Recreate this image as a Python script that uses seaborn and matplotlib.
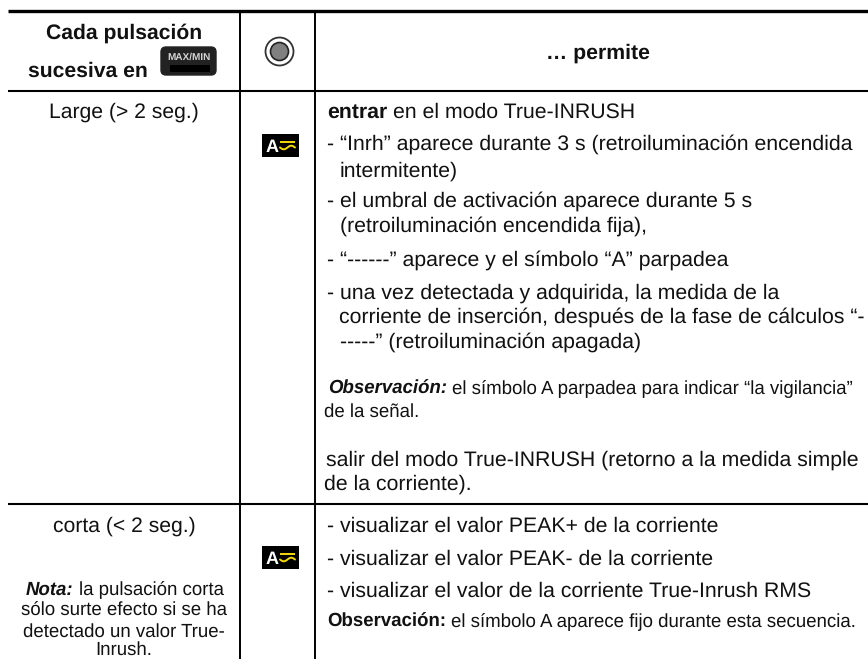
import numpy as np
import seaborn as sns
import matplotlib
matplotlib.use("Agg")
import matplotlib.pyplot as plt
from matplotlib.patches import Circle, FancyBboxPatch, Rectangle

# Table text
header_left = ["Cada pulsación", "sucesiva en"]
header_right = "… permite"
button_label = "MAX/MIN"
symbol_label = "A"
row1_left = "Large (> 2 seg.)"
row1_lines = [
    "- “Inrh” aparece durante 3 s (retroiluminación encendida",
    "intermitente)",
    "- el umbral de activación aparece durante 5 s",
    "(retroiluminación encendida fija),",
    "- “------” aparece y el símbolo “A” parpadea",
    "- una vez detectada y adquirida, la medida de la",
    "corriente de inserción, después de la fase de cálculos “-",
    "-----” (retroiluminación apagada)",
    "salir del modo True-INRUSH (retorno a la medida simple",
    "de la corriente).",
]
row1_first = ["entrar", "en el modo True-INRUSH"]
row1_obs = ["Observación:", "el símbolo A parpadea para indicar “la vigilancia”", "de la señal."]
row2_left = "corta (< 2 seg.)"
row2_note = ["Nota:", "la pulsación corta", "sólo surte efecto si se ha", "detectado un valor True-", "Inrush."]
row2_lines = [
    "- visualizar el valor PEAK+ de la corriente",
    "- visualizar el valor PEAK- de la corriente",
    "- visualizar el valor de la corriente True-Inrush RMS",
]
row2_obs = ["Observación:", "el símbolo A aparece fijo durante esta secuencia."]

font = "Liberation Sans"
body = 15.3
left = 15.2
small = 13.4

sns.set_theme(style="white")
plt.rcParams["font.family"] = font
plt.rcParams["text.hinting"] = "no_hinting"

fig, ax = plt.subplots(figsize=(8.68, 6.59), dpi=100)
fig.subplots_adjust(0, 0, 1, 1)
ax.set_xlim(0, 868)
ax.set_ylim(659, 0)
ax.axis("off")


def rule(x0, x1, y0, y1, lw):
    sns.lineplot(x=[x0, x1], y=[y0, y1], color="black", linewidth=lw, sort=False,
                 estimator=None, solid_capstyle="butt", ax=ax)


def runs(x, y, parts, size):
    # parts are (text, weight, style), drawn one after the other
    r = fig.canvas.get_renderer()
    for text, weight, style in parts:
        t = ax.text(x, y, text, fontsize=size, fontweight=weight, fontstyle=style,
                    va="baseline", ha="left", color="#111111")
        x = t.get_window_extent(r).x1 + size * 0.38


def centered(x, y, text, size=left, weight="normal"):
    ax.text(x, y, text, fontsize=size, fontweight=weight, ha="center", va="baseline", color="#111111")


def symbol(x, y):
    # black "A" tile with the yellow AC sign
    ax.add_patch(Rectangle((x, y), 37, 23, color="black", lw=0))
    ax.text(x + 10, y + 18, symbol_label, color="white", fontsize=13, fontweight="bold", ha="center", va="baseline")
    ax.plot([x + 18, x + 33], [y + 7.5, y + 7.5], color="#f5d90a", lw=1.4, solid_capstyle="butt")
    wx = np.linspace(x + 18, x + 33, 30)
    ax.plot(wx, y + 13.5 + 1.8 * np.sin((wx - x - 18) / 15 * 2 * np.pi), color="#f5d90a", lw=1.4)


# table rules
rule(8, 868, 11, 11, 2.4)
rule(8, 868, 90.5, 90.5, 1.5)
rule(8, 868, 503.5, 503.5, 1.5)
rule(240, 240, 10, 659, 1.4)
rule(315, 315, 10, 659, 1.4)

# header
centered(124, 39, header_left[0], weight="bold")
ax.text(28, 77, header_left[1], fontsize=left, fontweight="bold", va="baseline", color="#111111")
ax.add_patch(FancyBboxPatch((161, 47), 55, 28, boxstyle="round,pad=0,rounding_size=5", fc="#222222", ec="#222222", lw=1))
ax.text(188.5, 57, button_label, color="#d4d4d4", fontsize=7.2, fontweight="bold", ha="center", va="center")
ax.add_patch(Rectangle((170, 65), 40, 7, color="black", lw=0))
ax.add_patch(Circle((279.5, 51.5), 14, fc="white", ec="#333333", lw=1.3))
ax.add_patch(Circle((279.5, 51.5), 9, fc="#808080", ec="#222222", lw=1.2))
centered(598, 59, header_right, size=body, weight="bold")

# first row
centered(124, 118, row1_left)
symbol(262, 134)
runs(327, 118, [(row1_first[0], "bold", "normal"), (row1_first[1], "normal", "normal")], body)
row1_y = [150, 177, 207, 232, 266, 299, 323, 348, 466, 490]
row1_x = [327, 340, 327, 340, 327, 327, 339, 340, 326, 324]
for x, y, line in zip(row1_x, row1_y, row1_lines):
    ax.text(x, y, line, fontsize=body, va="baseline", color="#111111")
runs(328, 394, [(row1_obs[0], "bold", "italic"), (row1_obs[1], "normal", "normal")], small)
ax.text(324, 417, row1_obs[2], fontsize=small, va="baseline", color="#111111")

# second row
centered(124, 532, row2_left)
symbol(262, 546)
runs(26, 595, [(row2_note[0], "bold", "italic"), (row2_note[1], "normal", "normal")], small)
centered(124, 616, row2_note[2], size=small)
centered(124, 637, row2_note[3], size=small)
centered(124, 654.5, row2_note[4], size=small)
for y, line in zip([532, 565, 597], row2_lines):
    ax.text(327, y, line, fontsize=body, va="baseline", color="#111111")
runs(327, 627, [(row2_obs[0], "bold", "normal"), (row2_obs[1], "normal", "normal")], small)

fig.savefig("out.png", dpi=100)
